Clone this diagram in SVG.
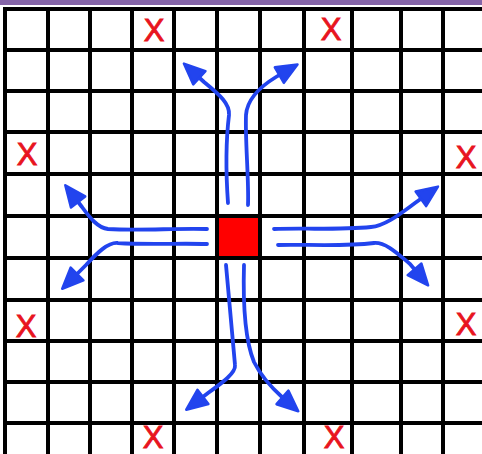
<svg xmlns="http://www.w3.org/2000/svg" width="482" height="454" viewBox="0 0 482 454">
<style>
.grid line{stroke:#000;stroke-width:4}
.x{font-family:"Liberation Sans",Arial,sans-serif;font-size:31px;fill:#e8141e;stroke:#e8141e;stroke-width:0.9;text-anchor:middle}
.arr{fill:none;stroke:#2244ee;stroke-width:3.8;stroke-linecap:round;stroke-linejoin:round;marker-end:url(#ah)}
</style>
<defs>
<marker id="ah" markerUnits="userSpaceOnUse" markerWidth="28" markerHeight="24" refX="12" refY="11" orient="auto" viewBox="0 0 28 24">
<path d="M2,2 L23,11 L2,20 z" fill="#2244ee" stroke="#2244ee" stroke-width="2.5" stroke-linejoin="round"/>
</marker>
</defs>
<rect x="0" y="0" width="482" height="454" fill="#fff"/>
<rect x="0" y="0" width="482" height="5" fill="#8565a8"/>
<g id="target"><rect x="217" y="216" width="43" height="42" fill="#ff0000"/></g>
<g class="grid">
<line x1="3" y1="9" x2="482" y2="9"/>
<line x1="3" y1="50" x2="482" y2="50"/>
<line x1="3" y1="91" x2="482" y2="91"/>
<line x1="3" y1="132" x2="482" y2="132"/>
<line x1="3" y1="174" x2="482" y2="174"/>
<line x1="3" y1="216" x2="482" y2="216"/>
<line x1="3" y1="258" x2="482" y2="258"/>
<line x1="3" y1="300" x2="482" y2="300"/>
<line x1="3" y1="341" x2="482" y2="341"/>
<line x1="3" y1="382" x2="482" y2="382"/>
<line x1="3" y1="423" x2="482" y2="423"/>
<line x1="5" y1="7" x2="5" y2="454"/>
<line x1="48" y1="7" x2="48" y2="454"/>
<line x1="90" y1="7" x2="90" y2="454"/>
<line x1="132" y1="7" x2="132" y2="454"/>
<line x1="174" y1="7" x2="174" y2="454"/>
<line x1="217" y1="7" x2="217" y2="454"/>
<line x1="260" y1="7" x2="260" y2="454"/>
<line x1="304" y1="7" x2="304" y2="454"/>
<line x1="352" y1="7" x2="352" y2="454"/>
<line x1="401" y1="7" x2="401" y2="454"/>
<line x1="443" y1="7" x2="443" y2="454"/>
</g>
<g id="x-top-1"><text class="x" x="154" y="41">X</text></g>
<g id="x-top-2"><text class="x" x="331" y="40">X</text></g>
<g id="x-left-1"><text class="x" x="27" y="165">X</text></g>
<g id="x-right-1"><text class="x" x="466" y="168">X</text></g>
<g id="x-left-2"><text class="x" x="26" y="337">X</text></g>
<g id="x-right-2"><text class="x" x="466" y="335">X</text></g>
<g id="x-bottom-1"><text class="x" x="153" y="448">X</text></g>
<g id="x-bottom-2"><text class="x" x="334" y="448">X</text></g>
<g id="connectors">
<path class="arr" d="M228,203 C226,175 226,140 229,115 C230,104 220,95 204,82 L192,71"/>
<path class="arr" d="M248,205 C249,180 245,140 246,115 C247,100 258,88 276,77 L288,70"/>
<path class="arr" d="M207,229 C175,228 140,231 108,229 C98,228 90,218 82,207 L72,194"/>
<path class="arr" d="M207,244 C178,243 148,245 118,243 C108,242 97,253 86,265 L70,281"/>
<path class="arr" d="M274,229 C300,228 340,230 371,227 C385,226 400,214 415,203 L429,193"/>
<path class="arr" d="M278,245 C302,244 340,247 374,243 C386,242 398,254 410,264 L421,277"/>
<path class="arr" d="M226,265 C229,300 232,330 235,365 C236,373 222,383 208,393 L195,403"/>
<path class="arr" d="M244,265 C243,300 245,340 254,362 C261,376 272,388 282,397 L290,404"/>
</g>
</svg>
